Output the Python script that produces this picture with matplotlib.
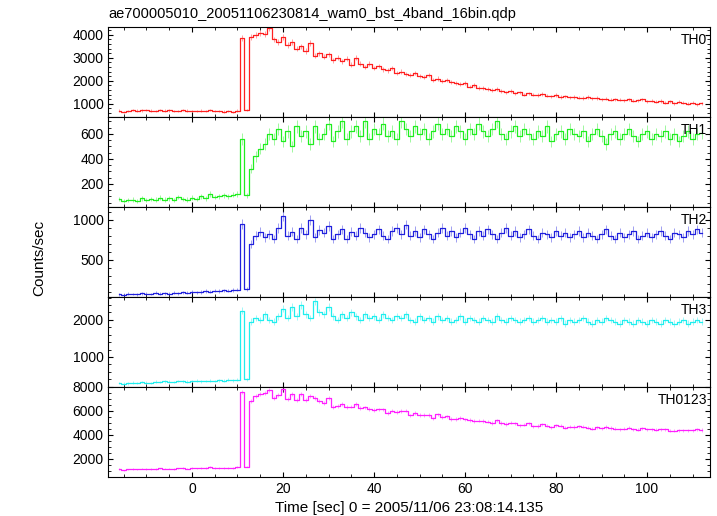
import numpy as np
import matplotlib
matplotlib.use("Agg")
import matplotlib.pyplot as plt

t = np.arange(-16, 113)
th0 = [700,640,690,720,700,710,730,700,690,720,
700,710,690,680,730,700,690,680,700,690,
720,680,690,660,680,650,700,3850,720,3900,
4000,4100,4050,4300,3800,3700,3900,3550,3700,3400,
3500,3300,3650,3100,3200,3050,3150,2900,3000,2850,
2950,2700,3000,2750,2600,2750,2550,2650,2500,2450,
2550,2350,2400,2300,2250,2350,2200,2150,2250,2050,
2100,2000,2050,1950,1900,1850,1900,1750,1800,1700,
1700,1650,1600,1650,1550,1500,1550,1450,1500,1400,
1450,1400,1380,1420,1350,1330,1380,1300,1320,1280,
1300,1270,1250,1290,1230,1250,1200,1220,1180,1200,
1170,1150,1190,1130,1150,1200,1100,1130,1080,1120,
1050,1100,1020,1080,1040,1000,1050,980,1020]
th1 = [80,65,70,75,60,85,70,80,75,90,
75,85,70,95,80,75,90,80,100,85,
120,95,100,110,100,115,120,560,110,320,
420,480,520,600,560,640,540,620,500,660,
580,620,520,660,560,600,680,540,620,700,
560,620,660,580,700,560,640,600,680,580,
620,560,700,640,580,660,600,640,560,620,
680,600,640,580,660,620,560,640,600,680,
620,580,640,700,600,560,620,660,580,640,
600,560,620,580,660,540,600,620,560,640,
600,580,620,540,600,640,580,520,600,620,
560,600,640,580,540,600,620,560,600,580,
620,560,600,540,580,620,560,600,610]
th2 = [70,65,80,75,70,85,80,75,90,80,
85,80,90,85,95,90,100,95,100,110,
105,115,110,120,115,125,130,950,140,700,
800,850,780,820,760,900,1050,800,850,760,
900,820,1000,780,870,840,920,760,820,880,
760,850,800,900,840,780,820,880,800,760,
860,900,820,940,800,860,780,880,820,760,
840,900,800,860,780,840,900,820,760,860,
800,880,820,760,840,900,800,860,780,820,
880,800,760,840,820,780,860,800,840,780,
820,860,780,840,800,760,820,880,800,760,
840,780,820,860,760,800,840,780,820,860,
800,760,840,820,780,860,820,880,840]
th3 = [300,280,290,310,300,320,310,300,330,320,
340,330,320,350,340,330,350,360,340,350,
360,350,370,360,380,370,390,2250,400,1950,
2050,2000,2150,2000,1950,2100,2300,2050,2350,2100,
2400,2150,2050,2500,2200,2150,2350,2100,2000,2150,
2050,2200,2100,2000,2150,2050,2100,2000,2150,2050,
2000,2100,2050,2150,2000,1950,2100,2000,2050,1950,
2100,2000,2050,1950,2000,2100,1950,2050,2000,1950,
2050,2000,1950,2100,2000,1950,2050,2000,1950,2000,
2050,1950,2000,2050,1950,2000,1950,2050,1900,2000,
1950,2000,2050,1950,1900,2000,1950,2050,2000,1950,
1900,2000,1950,1900,2000,1950,1900,2000,1950,1900,
2000,1950,1900,1950,2000,1900,1950,2000,1950]
th0123 = np.array(th0) + np.array(th1) + np.array(th2) + np.array(th3)

labels = ["TH0", "TH1", "TH2", "TH3", "TH0123"]
series = [th0, th1, th2, th3, th0123]
colors = ["#ff2020", "#20ee20", "#2020dd", "#20eeee", "#ff20ff"]
ylims = [(430, 4350), (16, 736), (38, 1160), (190, 2620), (500, 8000)]
yticks = [[1000, 2000, 3000, 4000], [200, 400, 600], [500, 1000], [1000, 2000], [2000, 4000, 6000, 8000]]

plt.rcParams['font.family'] = ['Liberation Sans', 'DejaVu Sans']
fig, axes = plt.subplots(5, 1, sharex=True, figsize=(7.17, 5.16), dpi=100)
fig.subplots_adjust(left=0.151, right=0.990, bottom=0.0756, top=0.948, hspace=0)
for ax, y, c, lab, yl, yt in zip(axes, series, colors, labels, ylims, yticks):
    y = np.asarray(y, float)
    ax.errorbar(t, y, yerr=np.sqrt(y * 4), fmt='none', ecolor=c, elinewidth=0.5, alpha=0.6)
    ax.step(t, y, where='mid', color=c, lw=0.9)
    ax.set_ylim(*yl)
    ax.set_yticks(yt)
    ax.set_xlim(-18.4, 113.8)
    ax.minorticks_on()
    ax.tick_params(which='both', direction='in', top=True, right=True, labelsize=10)
    ax.text(0.995, 0.93, lab, transform=ax.transAxes, ha='right', va='top', fontsize=10)
axes[-1].set_xticks([0, 20, 40, 60, 80, 100])
axes[-1].set_xlabel("Time [sec] 0 = 2005/11/06 23:08:14.135", fontsize=11)
fig.text(0.055, 0.5, "Counts/sec", rotation=90, va='center', ha='center', fontsize=11)
fig.text(0.151, 0.965, "ae700005010_20051106230814_wam0_bst_4band_16bin.qdp", fontsize=10.5, ha='left')
fig.savefig("out.png")
